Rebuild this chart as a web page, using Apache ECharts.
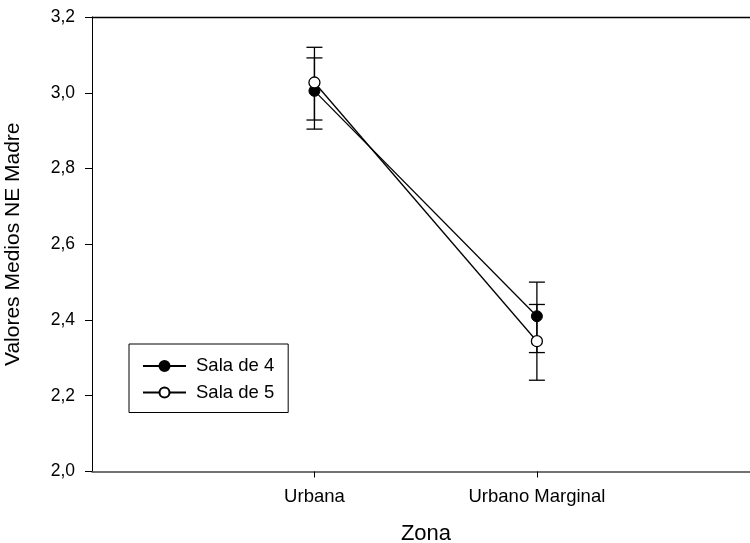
<!DOCTYPE html>
<html>
<head>
<meta charset="utf-8">
<script src="https://cdn.jsdelivr.net/npm/echarts@6/dist/echarts.min.js"></script>
<style>html,body{margin:0;padding:0;background:#fff}#c{width:750px;height:543px}</style>
</head>
<body>
<div id="c"></div>
<script>
const categories = ['Urbana', 'Urbano Marginal'];
const sala4 = [3.005, 2.410];
const sala4Upper = [3.092, 2.500];
const sala4Lower = [2.904, 2.314];
const sala5 = [3.027, 2.344];
const sala5Upper = [3.120, 2.441];
const sala5Lower = [2.928, 2.241];
const yTicks = [2.0, 2.2, 2.4, 2.6, 2.8, 3.0, 3.2];

const FONT = 'Liberation Sans, Arial, sans-serif';
const chart = echarts.init(document.getElementById('c'), null, {renderer: 'canvas'});

function errData(up, lo) {
  return categories.map((c, i) => [i + 1, lo[i], up[i]]);
}
function errRender(params, api) {
  const x = api.value(0);
  const lo = api.coord([x, api.value(1)]);
  const hi = api.coord([x, api.value(2)]);
  const hw = 8;
  const st = {stroke: '#000', lineWidth: 1.3};
  return {
    type: 'group',
    children: [
      {type: 'line', shape: {x1: lo[0], y1: lo[1], x2: hi[0], y2: hi[1]}, style: st},
      {type: 'line', shape: {x1: hi[0] - hw, y1: hi[1], x2: hi[0] + hw, y2: hi[1]}, style: st},
      {type: 'line', shape: {x1: lo[0] - hw, y1: lo[1], x2: lo[0] + hw, y2: lo[1]}, style: st}
    ]
  };
}

chart.setOption({
  animation: false,
  backgroundColor: '#fff',
  grid: {left: 92, top: 17, right: 0, height: 454.5, show: false, containLabel: false, outerBoundsMode: 'none'},
  xAxis: [{
    type: 'value', min: 0, max: 2.958, interval: 1,
    name: 'Zona', nameLocation: 'middle', nameGap: 51,
    nameTextStyle: {fontFamily: FONT, fontSize: 22, color: '#000', padding: [0, 0, 0, 10]},
    axisLine: {show: true, lineStyle: {color: '#444', width: 1.5}},
    axisTick: {show: true, length: 6, customValues: [1, 2], lineStyle: {color: '#000'}},
    axisLabel: {
      customValues: [1, 2], margin: 16,
      fontFamily: FONT, fontSize: 18.5, color: '#000',
      formatter: v => categories[Math.round(v) - 1] || ''
    },
    splitLine: {show: false}
  }, {
    type: 'value', position: 'top', min: 0, max: 2.958,
    axisLine: {show: true, onZero: false, lineStyle: {color: '#000', width: 1.3}},
    axisTick: {show: false}, axisLabel: {show: false}, splitLine: {show: false}
  }],
  yAxis: {
    type: 'value', min: yTicks[0], max: yTicks[yTicks.length - 1], interval: 0.2,
    name: 'Valores Medios NE Madre', nameLocation: 'middle', nameGap: 68,
    nameTextStyle: {fontFamily: FONT, fontSize: 21, color: '#000'},
    axisLine: {show: true, lineStyle: {color: '#000', width: 1}},
    axisTick: {show: true, length: 7, lineStyle: {color: '#000'}},
    axisLabel: {margin: 17, fontFamily: FONT, fontSize: 17.5, color: '#000',
      formatter: v => v.toFixed(1).replace('.', ',')},
    splitLine: {show: false}
  },
  legend: {
    orient: 'vertical', left: 129, top: 344,
    padding: [12.5, 14, 10.5, 13], itemGap: 7.5,
    itemWidth: 43, itemHeight: 12.5,
    borderColor: '#000', borderWidth: 1,
    textStyle: {fontFamily: FONT, fontSize: 18.5, color: '#000', padding: [0, 0, 0, 5]},
    data: ['Sala de 4', 'Sala de 5']
  },
  series: [
    {type: 'custom', name: 'err4', renderItem: errRender, data: errData(sala4Upper, sala4Lower), z: 1},
    {type: 'custom', name: 'err5', renderItem: errRender, data: errData(sala5Upper, sala5Lower), z: 1},
    {
      type: 'line', name: 'Sala de 4', z: 3,
      data: sala4.map((v, i) => [i + 1, v]),
      symbol: 'circle', symbolSize: 11,
      lineStyle: {color: '#000', width: 1.3},
      itemStyle: {color: '#000', borderColor: '#000', borderWidth: 1}
    },
    {
      type: 'line', name: 'Sala de 5', z: 4,
      data: sala5.map((v, i) => [i + 1, v]),
      symbol: 'circle', symbolSize: 11,
      lineStyle: {color: '#000', width: 1.3},
      itemStyle: {color: '#fff', borderColor: '#000', borderWidth: 1.3}
    }
  ]
});
</script>
</body>
</html>
